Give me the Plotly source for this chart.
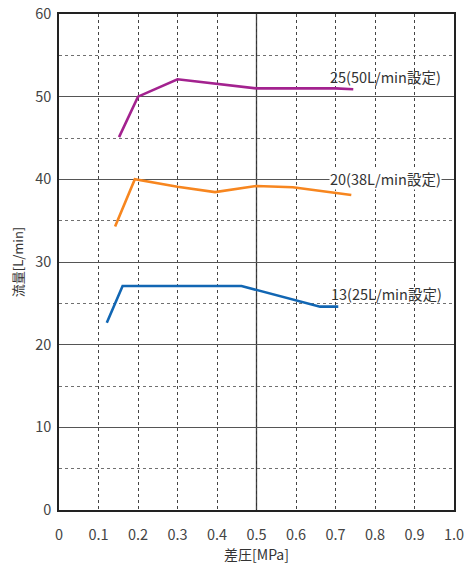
import plotly.graph_objects as go

# Data
x_25 = [0.152, 0.20, 0.30, 0.50, 0.60, 0.70, 0.745]
y_25 = [45.1, 50.0, 52.1, 51.0, 51.0, 51.0, 50.9]

x_20 = [0.142, 0.192, 0.30, 0.395, 0.50, 0.592, 0.74]
y_20 = [34.3, 40.0, 39.1, 38.45, 39.2, 39.05, 38.1]

x_13 = [0.121, 0.161, 0.462, 0.661, 0.707]
y_13 = [22.65, 27.1, 27.1, 24.6, 24.6]

labels = ["25(50L/min設定)", "20(38L/min設定)", "13(25L/min設定)"]
label_x = [0.827, 0.827, 0.829]
label_y = [52.45, 40.1, 26.2]
label_bg = ["rgba(0,0,0,0)", "white", "rgba(0,0,0,0)"]

x_ticks = [0, 0.1, 0.2, 0.3, 0.4, 0.5, 0.6, 0.7, 0.8, 0.9, 1.0]
x_ticktext = ["0", "0.1", "0.2", "0.3", "0.4", "0.5", "0.6", "0.7", "0.8", "0.9", "1.0"]
y_ticks = [0, 10, 20, 30, 40, 50, 60]

FONT = "Noto Sans CJK JP"
colors = ["#a3228f", "#f7861f", "#1166b3"]

fig = go.Figure()
for xs, ys, c in [(x_25, y_25, colors[0]), (x_20, y_20, colors[1]), (x_13, y_13, colors[2])]:
    fig.add_trace(go.Scatter(x=xs, y=ys, mode="lines",
                             line=dict(color=c, width=2.6), showlegend=False,
                             hoverinfo="skip"))

# solid reference line at 0.5 MPa
fig.add_shape(type="line", xref="x", yref="paper", x0=0.5, x1=0.5, y0=0, y1=1,
              line=dict(color="#333333", width=1.3), layer="below")

for t, xx, yy, bg in zip(labels, label_x, label_y, label_bg):
    fig.add_annotation(x=xx, y=yy, text=t, showarrow=False,
                       font=dict(family=FONT, size=14.5, color="#333333"),
                       bgcolor=bg, borderpad=0)

fig.update_layout(
    width=467, height=564,
    margin=dict(l=59, r=13, t=14, b=54, autoexpand=False),
    paper_bgcolor="white", plot_bgcolor="white",
    font=dict(family=FONT, color="#333333"),
    xaxis=dict(range=[0, 1.0], tickvals=x_ticks, ticktext=x_ticktext,
               showgrid=True, gridcolor="#444444", griddash="3px,3px", gridwidth=1,
               showline=True, linecolor="#222222", linewidth=1.5, mirror=True,
               zeroline=False, ticks="", ticklen=0, automargin=False,
               ticklabelstandoff=11,
               tickfont=dict(family=FONT, size=14.5, color="#444444"),
               title=dict(text="差圧[MPa]", font=dict(family=FONT, size=14, color="#333333"),
                          standoff=9)),
    yaxis=dict(range=[0, 60], tickvals=y_ticks,
               showgrid=True, gridcolor="#555555", gridwidth=1.4,
               minor=dict(dtick=5, showgrid=True, gridcolor="#707070", griddash="3px,3px",
                          gridwidth=1, ticks=""),
               showline=True, linecolor="#222222", linewidth=1.5, mirror=True,
               zeroline=False, ticks="", ticklen=0, automargin=False,
               ticklabelstandoff=3,
               tickfont=dict(family=FONT, size=14.5, color="#444444"),
               title=dict(text="流量[L/min]", font=dict(family=FONT, size=13, color="#333333"),
                          standoff=9)),
)

post = ("document.body.style.margin='0';document.body.style.overflow='hidden';"
        "document.documentElement.style.overflow='hidden';"
        "var d=document.getElementById('{plot_id}');"
        "d.style.position='absolute';d.style.left='0px';d.style.top='0px';")

fig.write_html("out.html", post_script=post, config={"displayModeBar": False})
